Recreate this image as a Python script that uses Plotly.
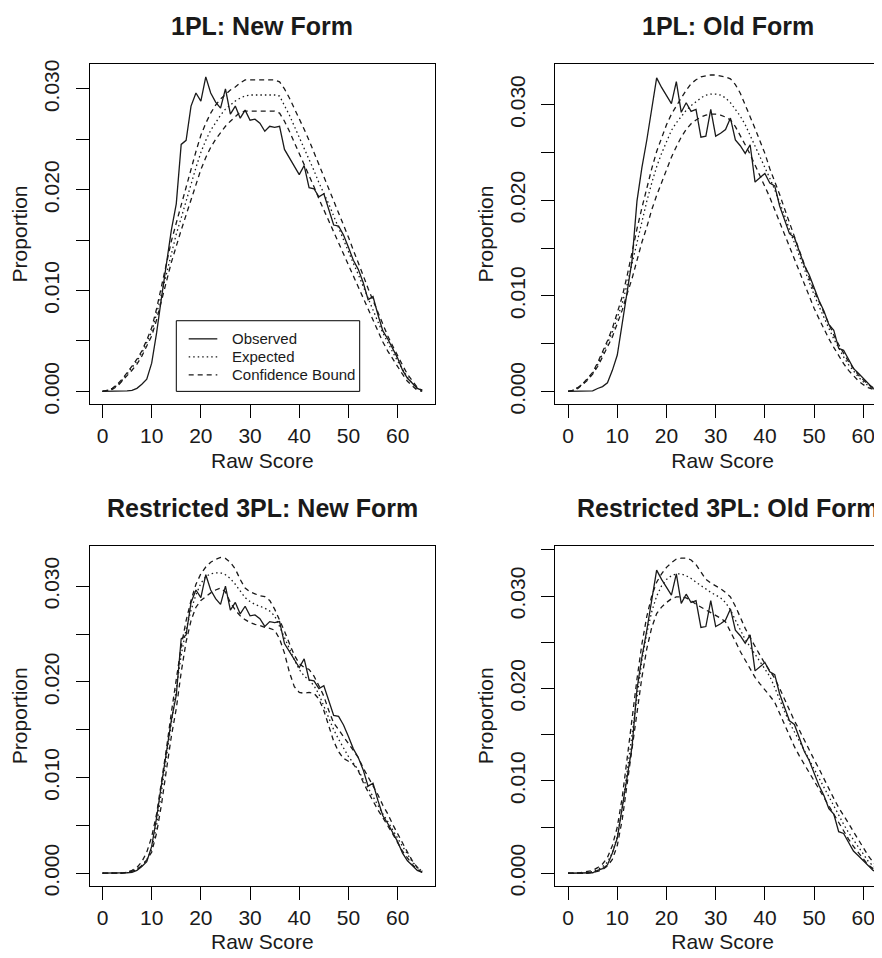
import plotly.graph_objects as go

# ---------------- data ----------------
raw_score = list(range(66))

obs_new = [0, 0, 0, 0, 0.00002, 0.00005, 0.0001, 0.0003, 0.0007, 0.0012,
           0.0028, 0.0058, 0.0093, 0.0125, 0.0160, 0.0186, 0.0245, 0.0249, 0.0283, 0.0296,
           0.0288, 0.0312, 0.0296, 0.0287, 0.0281, 0.0300, 0.0275, 0.0283, 0.0271, 0.0279,
           0.0269, 0.0270, 0.0266, 0.0258, 0.0263, 0.0262, 0.0263, 0.0240, 0.0232, 0.0224,
           0.0215, 0.0224, 0.0202, 0.0201, 0.0193, 0.0196, 0.0181, 0.0165, 0.0164, 0.0155,
           0.0143, 0.0130, 0.0121, 0.0108, 0.0091, 0.0094, 0.0076, 0.0060, 0.0052, 0.0042,
           0.0033, 0.0021, 0.0013, 0.0008, 0.0003, 0.0001]

obs_old = [0, 0, 0, 0, 0.00002, 0.00005, 0.0003, 0.0005, 0.0009, 0.0022,
           0.0038, 0.0070, 0.0105, 0.0137, 0.0199, 0.0234, 0.0263, 0.0297, 0.0328, 0.0318,
           0.0309, 0.0301, 0.0324, 0.0292, 0.0302, 0.0293, 0.0295, 0.0266, 0.0267, 0.0295,
           0.0267, 0.0270, 0.0274, 0.0286, 0.0263, 0.0257, 0.0249, 0.0258, 0.0219, 0.0224,
           0.0228, 0.0218, 0.0215, 0.0194, 0.0180, 0.0165, 0.0161, 0.0146, 0.0132, 0.0122,
           0.0108, 0.0095, 0.0084, 0.0070, 0.0064, 0.0045, 0.0043, 0.0034, 0.0024, 0.0019,
           0.0014, 0.0009, 0.0003, 0.0001, 0, 0]

exp1_new = [0.0000, 0.0001, 0.0003, 0.0006, 0.0011, 0.0017, 0.0023, 0.0030, 0.0038, 0.0048,
            0.0059, 0.0077, 0.0097, 0.0118, 0.0139, 0.0156, 0.0172, 0.0189, 0.0205, 0.0222,
            0.0237, 0.0249, 0.0259, 0.0267, 0.0274, 0.0280, 0.0284, 0.0288, 0.0291, 0.0293,
            0.0294, 0.0294, 0.0294, 0.0294, 0.0294, 0.0294, 0.0293, 0.0284, 0.0274, 0.0263,
            0.0252, 0.0242, 0.0231, 0.0219, 0.0207, 0.0197, 0.0186, 0.0174, 0.0162, 0.0151,
            0.0139, 0.0127, 0.0116, 0.0104, 0.0092, 0.0080, 0.0069, 0.0058, 0.0048, 0.0039,
            0.0030, 0.0022, 0.0014, 0.0008, 0.0003, 0.0001]
up1_new = [0.0000, 0.0001, 0.0003, 0.0007, 0.0012, 0.0018, 0.0025, 0.0032, 0.0040, 0.0051,
           0.0063, 0.0082, 0.0104, 0.0127, 0.0149, 0.0167, 0.0185, 0.0203, 0.0221, 0.0238,
           0.0254, 0.0266, 0.0276, 0.0284, 0.0290, 0.0295, 0.0299, 0.0302, 0.0306, 0.0309,
           0.0309, 0.0309, 0.0309, 0.0309, 0.0309, 0.0309, 0.0307, 0.0300, 0.0291, 0.0281,
           0.0270, 0.0260, 0.0249, 0.0237, 0.0225, 0.0214, 0.0202, 0.0190, 0.0178, 0.0166,
           0.0153, 0.0140, 0.0128, 0.0115, 0.0102, 0.0090, 0.0078, 0.0066, 0.0055, 0.0045,
           0.0035, 0.0026, 0.0017, 0.0010, 0.0004, 0.0001]
lo1_new = [0.0000, 0.0001, 0.0002, 0.0005, 0.0010, 0.0015, 0.0021, 0.0027, 0.0035, 0.0045,
           0.0055, 0.0071, 0.0089, 0.0109, 0.0128, 0.0145, 0.0160, 0.0175, 0.0190, 0.0205,
           0.0220, 0.0232, 0.0242, 0.0250, 0.0257, 0.0263, 0.0268, 0.0273, 0.0277, 0.0278,
           0.0278, 0.0278, 0.0278, 0.0278, 0.0278, 0.0278, 0.0276, 0.0268, 0.0258, 0.0247,
           0.0236, 0.0226, 0.0214, 0.0203, 0.0191, 0.0180, 0.0169, 0.0158, 0.0147, 0.0136,
           0.0125, 0.0114, 0.0103, 0.0092, 0.0081, 0.0070, 0.0059, 0.0049, 0.0040, 0.0032,
           0.0024, 0.0017, 0.0010, 0.0005, 0.0001, 0.0000]

exp1_old = [0.0000, 0.0001, 0.0004, 0.0008, 0.0013, 0.0019, 0.0028, 0.0039, 0.0050, 0.0062,
            0.0077, 0.0092, 0.0112, 0.0134, 0.0157, 0.0178, 0.0199, 0.0218, 0.0235, 0.0249,
            0.0262, 0.0273, 0.0281, 0.0288, 0.0294, 0.0299, 0.0303, 0.0307, 0.0310, 0.0311,
            0.0311, 0.0310, 0.0307, 0.0302, 0.0295, 0.0288, 0.0279, 0.0268, 0.0257, 0.0246,
            0.0235, 0.0223, 0.0211, 0.0198, 0.0184, 0.0169, 0.0155, 0.0141, 0.0127, 0.0114,
            0.0101, 0.0089, 0.0077, 0.0066, 0.0055, 0.0045, 0.0036, 0.0028, 0.0021, 0.0015,
            0.0010, 0.0006, 0.0003, 0.0001, 0.0000, 0.0000]
up1_old = [0.0000, 0.0001, 0.0004, 0.0008, 0.0014, 0.0020, 0.0030, 0.0041, 0.0053, 0.0066,
           0.0082, 0.0099, 0.0121, 0.0146, 0.0170, 0.0192, 0.0213, 0.0233, 0.0251, 0.0266,
           0.0279, 0.0290, 0.0299, 0.0307, 0.0315, 0.0322, 0.0326, 0.0329, 0.0330, 0.0331,
           0.0331, 0.0330, 0.0329, 0.0327, 0.0321, 0.0312, 0.0300, 0.0288, 0.0275, 0.0262,
           0.0249, 0.0233, 0.0220, 0.0206, 0.0191, 0.0176, 0.0161, 0.0147, 0.0133, 0.0119,
           0.0105, 0.0094, 0.0082, 0.0070, 0.0059, 0.0049, 0.0040, 0.0031, 0.0024, 0.0017,
           0.0012, 0.0007, 0.0004, 0.0002, 0.0000, 0.0000]
lo1_old = [0.0000, 0.0001, 0.0003, 0.0007, 0.0012, 0.0018, 0.0026, 0.0036, 0.0046, 0.0057,
           0.0071, 0.0085, 0.0102, 0.0118, 0.0137, 0.0156, 0.0172, 0.0190, 0.0205, 0.0219,
           0.0233, 0.0245, 0.0256, 0.0266, 0.0274, 0.0280, 0.0284, 0.0287, 0.0289, 0.0290,
           0.0290, 0.0289, 0.0287, 0.0284, 0.0277, 0.0268, 0.0258, 0.0248, 0.0237, 0.0226,
           0.0215, 0.0203, 0.0190, 0.0177, 0.0163, 0.0150, 0.0137, 0.0124, 0.0111, 0.0099,
           0.0087, 0.0076, 0.0065, 0.0055, 0.0046, 0.0037, 0.0029, 0.0022, 0.0016, 0.0011,
           0.0007, 0.0004, 0.0002, 0.0001, 0.0000, 0.0000]

exp3_new = [0.0000, 0.0000, 0.0000, 0.0000, 0.0000, 0.0001, 0.0002, 0.0004, 0.0008, 0.0014,
            0.0025, 0.0050, 0.0085, 0.0122, 0.0160, 0.0195, 0.0228, 0.0255, 0.0275, 0.0291,
            0.0303, 0.0310, 0.0313, 0.0314, 0.0314, 0.0312, 0.0308, 0.0302, 0.0295, 0.0288,
            0.0284, 0.0281, 0.0279, 0.0277, 0.0274, 0.0269, 0.0258, 0.0246, 0.0235, 0.0223,
            0.0213, 0.0206, 0.0202, 0.0196, 0.0187, 0.0175, 0.0162, 0.0150, 0.0140, 0.0131,
            0.0122, 0.0115, 0.0108, 0.0098, 0.0089, 0.0079, 0.0070, 0.0062, 0.0054, 0.0045,
            0.0037, 0.0028, 0.0020, 0.0012, 0.0006, 0.0002]
up3_new = [0.0000, 0.0000, 0.0000, 0.0000, 0.0000, 0.0001, 0.0003, 0.0006, 0.0012, 0.0022,
           0.0038, 0.0062, 0.0095, 0.0130, 0.0168, 0.0203, 0.0237, 0.0264, 0.0285, 0.0302,
           0.0313, 0.0320, 0.0325, 0.0328, 0.0330, 0.0329, 0.0325, 0.0318, 0.0307, 0.0298,
           0.0294, 0.0292, 0.0290, 0.0289, 0.0285, 0.0276, 0.0265, 0.0253, 0.0240, 0.0228,
           0.0219, 0.0215, 0.0213, 0.0206, 0.0196, 0.0185, 0.0170, 0.0157, 0.0150, 0.0143,
           0.0135, 0.0128, 0.0121, 0.0110, 0.0101, 0.0092, 0.0082, 0.0071, 0.0062, 0.0051,
           0.0041, 0.0031, 0.0022, 0.0013, 0.0006, 0.0002]
lo3_new = [0.0000, 0.0000, 0.0000, 0.0000, 0.0000, 0.0001, 0.0002, 0.0004, 0.0008, 0.0014,
           0.0022, 0.0042, 0.0072, 0.0108, 0.0143, 0.0172, 0.0210, 0.0242, 0.0264, 0.0278,
           0.0285, 0.0289, 0.0293, 0.0296, 0.0298, 0.0294, 0.0283, 0.0275, 0.0269, 0.0265,
           0.0262, 0.0260, 0.0259, 0.0257, 0.0256, 0.0254, 0.0245, 0.0230, 0.0210, 0.0195,
           0.0189, 0.0188, 0.0189, 0.0188, 0.0182, 0.0170, 0.0153, 0.0138, 0.0127, 0.0120,
           0.0117, 0.0114, 0.0107, 0.0095, 0.0085, 0.0075, 0.0066, 0.0058, 0.0050, 0.0041,
           0.0032, 0.0023, 0.0016, 0.0009, 0.0004, 0.0001]

exp3_old = [0.0000, 0.0000, 0.0000, 0.0000, 0.0001, 0.0002, 0.0004, 0.0007, 0.0012, 0.0022,
            0.0040, 0.0070, 0.0110, 0.0152, 0.0192, 0.0230, 0.0260, 0.0283, 0.0300, 0.0311,
            0.0318, 0.0322, 0.0324, 0.0324, 0.0322, 0.0319, 0.0315, 0.0311, 0.0307, 0.0304,
            0.0301, 0.0298, 0.0293, 0.0285, 0.0274, 0.0263, 0.0253, 0.0245, 0.0237, 0.0230,
            0.0222, 0.0213, 0.0201, 0.0187, 0.0175, 0.0163, 0.0153, 0.0143, 0.0133, 0.0122,
            0.0112, 0.0102, 0.0093, 0.0083, 0.0073, 0.0063, 0.0053, 0.0044, 0.0036, 0.0028,
            0.0020, 0.0013, 0.0008, 0.0004, 0.0001, 0.0000]
up3_old = [0.0000, 0.0000, 0.0000, 0.0001, 0.0002, 0.0003, 0.0006, 0.0010, 0.0017, 0.0030,
           0.0050, 0.0082, 0.0124, 0.0168, 0.0210, 0.0248, 0.0278, 0.0300, 0.0315, 0.0324,
           0.0331, 0.0336, 0.0340, 0.0341, 0.0341, 0.0339, 0.0334, 0.0326, 0.0318, 0.0314,
           0.0311, 0.0308, 0.0304, 0.0299, 0.0289, 0.0277, 0.0265, 0.0255, 0.0245, 0.0236,
           0.0227, 0.0219, 0.0211, 0.0200, 0.0188, 0.0176, 0.0165, 0.0155, 0.0144, 0.0134,
           0.0123, 0.0113, 0.0102, 0.0092, 0.0081, 0.0071, 0.0063, 0.0054, 0.0045, 0.0036,
           0.0027, 0.0019, 0.0012, 0.0006, 0.0002, 0.0000]
lo3_old = [0.0000, 0.0000, 0.0000, 0.0000, 0.0000, 0.0001, 0.0002, 0.0004, 0.0008, 0.0015,
           0.0030, 0.0058, 0.0096, 0.0137, 0.0176, 0.0212, 0.0243, 0.0266, 0.0281, 0.0288,
           0.0293, 0.0297, 0.0299, 0.0299, 0.0298, 0.0295, 0.0291, 0.0288, 0.0285, 0.0282,
           0.0279, 0.0276, 0.0272, 0.0262, 0.0251, 0.0240, 0.0231, 0.0222, 0.0212, 0.0205,
           0.0199, 0.0192, 0.0185, 0.0173, 0.0160, 0.0148, 0.0137, 0.0127, 0.0118, 0.0109,
           0.0100, 0.0091, 0.0082, 0.0072, 0.0063, 0.0054, 0.0045, 0.0037, 0.0029, 0.0022,
           0.0015, 0.0009, 0.0005, 0.0002, 0.0000, 0.0000]

panel_titles = ["1PL: New Form", "1PL: Old Form",
                "Restricted 3PL: New Form", "Restricted 3PL: Old Form"]
series_names = ["Observed", "Expected", "Confidence Bound"]
x_tick_values = [0, 10, 20, 30, 40, 50, 60]
y_tick_values = [0.0, 0.005, 0.010, 0.015, 0.020, 0.025, 0.030, 0.035]
y_tick_labels = ["0.000", "", "0.010", "", "0.020", "", "0.030", ""]
x_title = "Raw Score"
y_title = "Proportion"

# ---------------- layout (pixel geometry) ----------------
W, H = 882, 958
FONT = "Liberation Sans, Arial, Helvetica, sans-serif"
INK = "#1a1a1a"
TICK_SIZE = 21
TITLE_SIZE = 25
LEG_SIZE = 15
DOT = "1.5px,3px"
DASH = "5px,4px"
LINE_W = 1.3

panels = [
    dict(obs=obs_new, exp=exp1_new, up=up1_new, lo=lo1_new,
         px=(81.7, 427.0), py=(52.5, 398.0), xr=(-2.6, 67.6), yr=(-0.001271, 0.032502), right=False),
    dict(obs=obs_old, exp=exp1_old, up=up1_old, lo=lo1_old,
         px=(547.3, 882.0), py=(52.5, 398.0), xr=(-2.6, 65.43), yr=(-0.00134, 0.03428), right=True),
    dict(obs=obs_new, exp=exp3_new, up=up3_new, lo=lo3_new,
         px=(81.7, 427.0), py=(541.7, 886.7), xr=(-2.6, 67.6), yr=(-0.001308, 0.034222), right=False),
    dict(obs=obs_old, exp=exp3_old, up=up3_old, lo=lo3_old,
         px=(547.3, 882.0), py=(541.7, 886.7), xr=(-2.6, 65.43), yr=(-0.001354, 0.035438), right=True),
]

fig = go.Figure()
layout = dict(
    width=W, height=H,
    margin=dict(l=0, r=0, t=0, b=0),
    paper_bgcolor="white", plot_bgcolor="white",
    font=dict(family=FONT, color=INK, size=TICK_SIZE),
    showlegend=False,
    annotations=[], shapes=[],
)

for i, p in enumerate(panels):
    k = "" if i == 0 else str(i + 1)
    xa, ya = "x" + k, "y" + k
    fig.add_trace(go.Scatter(x=raw_score, y=p["obs"], mode="lines", name=series_names[0],
                             line=dict(color=INK, width=LINE_W), xaxis=xa, yaxis=ya))
    fig.add_trace(go.Scatter(x=raw_score, y=p["exp"], mode="lines", name=series_names[1],
                             line=dict(color=INK, width=LINE_W, dash=DOT), xaxis=xa, yaxis=ya))
    fig.add_trace(go.Scatter(x=raw_score, y=p["up"], mode="lines", name=series_names[2],
                             line=dict(color=INK, width=LINE_W, dash=DASH), xaxis=xa, yaxis=ya))
    fig.add_trace(go.Scatter(x=raw_score, y=p["lo"], mode="lines", name=series_names[2],
                             line=dict(color=INK, width=LINE_W, dash=DASH), xaxis=xa, yaxis=ya))

    x0, x1 = p["px"]
    y0, y1 = p["py"]
    nt = 8 if i == 3 else 7
    layout["xaxis" + k] = dict(
        domain=[x0 / W, x1 / W], range=list(p["xr"]), anchor=ya,
        tickvals=x_tick_values, ticks="outside", ticklen=13, tickwidth=1, tickcolor="black",
        showline=True, linecolor="black", linewidth=1, mirror=True,
        showgrid=False, zeroline=False,
        tickfont=dict(size=TICK_SIZE, family=FONT, color=INK),
        title=dict(text=x_title, font=dict(size=TICK_SIZE, family=FONT, color=INK), standoff=6),
    )
    layout["yaxis" + k] = dict(
        domain=[1 - y1 / H, 1 - y0 / H], range=list(p["yr"]), anchor=xa,
        tickvals=y_tick_values[:nt], ticktext=y_tick_labels[:nt], tickangle=-90,
        ticks="outside", ticklen=13, tickwidth=1, tickcolor="black", ticklabelstandoff=8,
        showline=True, linecolor="black", linewidth=1, mirror=not p["right"],
        showgrid=False, zeroline=False,
        tickfont=dict(size=TICK_SIZE, family=FONT, color=INK),
        title=dict(text=y_title, font=dict(size=TICK_SIZE, family=FONT, color=INK), standoff=6),
    )
    cx = (x0 + (x1 if not p["right"] else x0 + 345.3)) / 2
    layout["annotations"].append(dict(
        text="<b>" + panel_titles[i] + "</b>", x=cx / W, y=1 - (y0 - 38) / H,
        xref="paper", yref="paper", xanchor="center", yanchor="middle", showarrow=False,
        font=dict(size=TITLE_SIZE, family=FONT, color=INK)))

# legend box drawn in the first panel (as in the original figure)
lg_x0, lg_x1, lg_y0, lg_y1 = 168.3, 351.7, 313.3, 385.0
layout["shapes"].append(dict(type="rect", xref="paper", yref="paper",
                             x0=lg_x0 / W, x1=lg_x1 / W, y0=1 - lg_y1 / H, y1=1 - lg_y0 / H,
                             line=dict(color="black", width=1), fillcolor="white", layer="above"))
row_y = [331.7, 350.0, 368.3]
row_dash = ["solid", DOT, DASH]
for name, ry, dsh in zip(series_names, row_y, row_dash):
    layout["shapes"].append(dict(type="line", xref="paper", yref="paper",
                                 x0=180.7 / W, x1=209.3 / W, y0=1 - ry / H, y1=1 - ry / H,
                                 line=dict(color=INK, width=LINE_W, dash=dsh), layer="above"))
    layout["annotations"].append(dict(text=name, x=221.7 / W, y=1 - ry / H, xref="paper", yref="paper",
                                      xanchor="left", yanchor="middle", showarrow=False,
                                      font=dict(size=LEG_SIZE, family=FONT, color=INK)))

fig.update_layout(**layout)
fig.write_html("out.html")
